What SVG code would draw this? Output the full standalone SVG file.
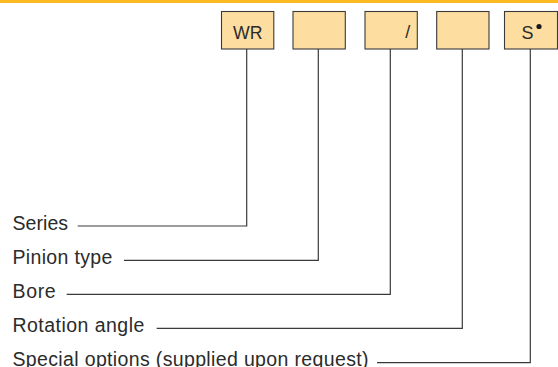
<svg xmlns="http://www.w3.org/2000/svg" width="558" height="367" viewBox="0 0 558 367">
<style>
.box{fill:#FDDDA0;stroke:#3a3a3a;stroke-width:1.1}
.bt{font-family:"Liberation Sans",Arial,sans-serif;font-size:18px;fill:#2b2b2b}
.lb{font-family:"Liberation Sans",Arial,sans-serif;font-size:19.5px;fill:#2b2b2b}
.con{fill:none;stroke:#3a3a3a;stroke-width:1.2}
</style>
<rect x="0" y="0" width="558" height="3" fill="#FBB922"/>
<g id="node-wr"><rect class="box" x="221.5" y="11.5" width="52.3" height="37.5"/><text class="bt" x="247.7" y="38.5" text-anchor="middle" textLength="29.5" lengthAdjust="spacingAndGlyphs">WR</text></g>
<g id="node-pinion"><rect class="box" x="293" y="11.5" width="52.3" height="37.5"/></g>
<g id="node-bore"><rect class="box" x="365" y="11.5" width="52.3" height="37.5"/><text class="bt" x="405.3" y="37.8">/</text></g>
<g id="node-special"><rect class="box" x="504.5" y="11.5" width="53" height="37.5"/><text class="bt" x="521.5" y="38.8">S</text><circle cx="539" cy="26.5" r="2.6" fill="#1a1a1a"/></g>
<g id="node-angle"><rect class="box" x="436.7" y="11.5" width="52.3" height="37.5"/></g>
<g id="label-series"><text class="lb" x="12.5" y="229.7" textLength="55.6" lengthAdjust="spacing">Series</text></g>
<g id="label-pinion"><text class="lb" x="12.5" y="264" textLength="99.8" lengthAdjust="spacing">Pinion type</text></g>
<g id="label-bore"><text class="lb" x="12.5" y="298" textLength="43.2" lengthAdjust="spacing">Bore</text></g>
<g id="label-angle"><text class="lb" x="12.5" y="332" textLength="131.8" lengthAdjust="spacing">Rotation angle</text></g>
<g id="label-special"><text class="lb" x="12.5" y="365.8" textLength="356" lengthAdjust="spacing">Special options (supplied upon request)</text></g>
<g id="connectors">
<polyline class="con" points="246.7,49 246.7,226 77.7,226"/>
<polyline class="con" points="318.3,49 318.3,260.3 124,260.3"/>
<polyline class="con" points="390.3,49 390.3,294.3 66.7,294.3"/>
<polyline class="con" points="462.3,49 462.3,328.3 156.7,328.3"/>
<polyline class="con" points="530.3,49 530.3,362.7 377,362.7"/>
</g>
</svg>
